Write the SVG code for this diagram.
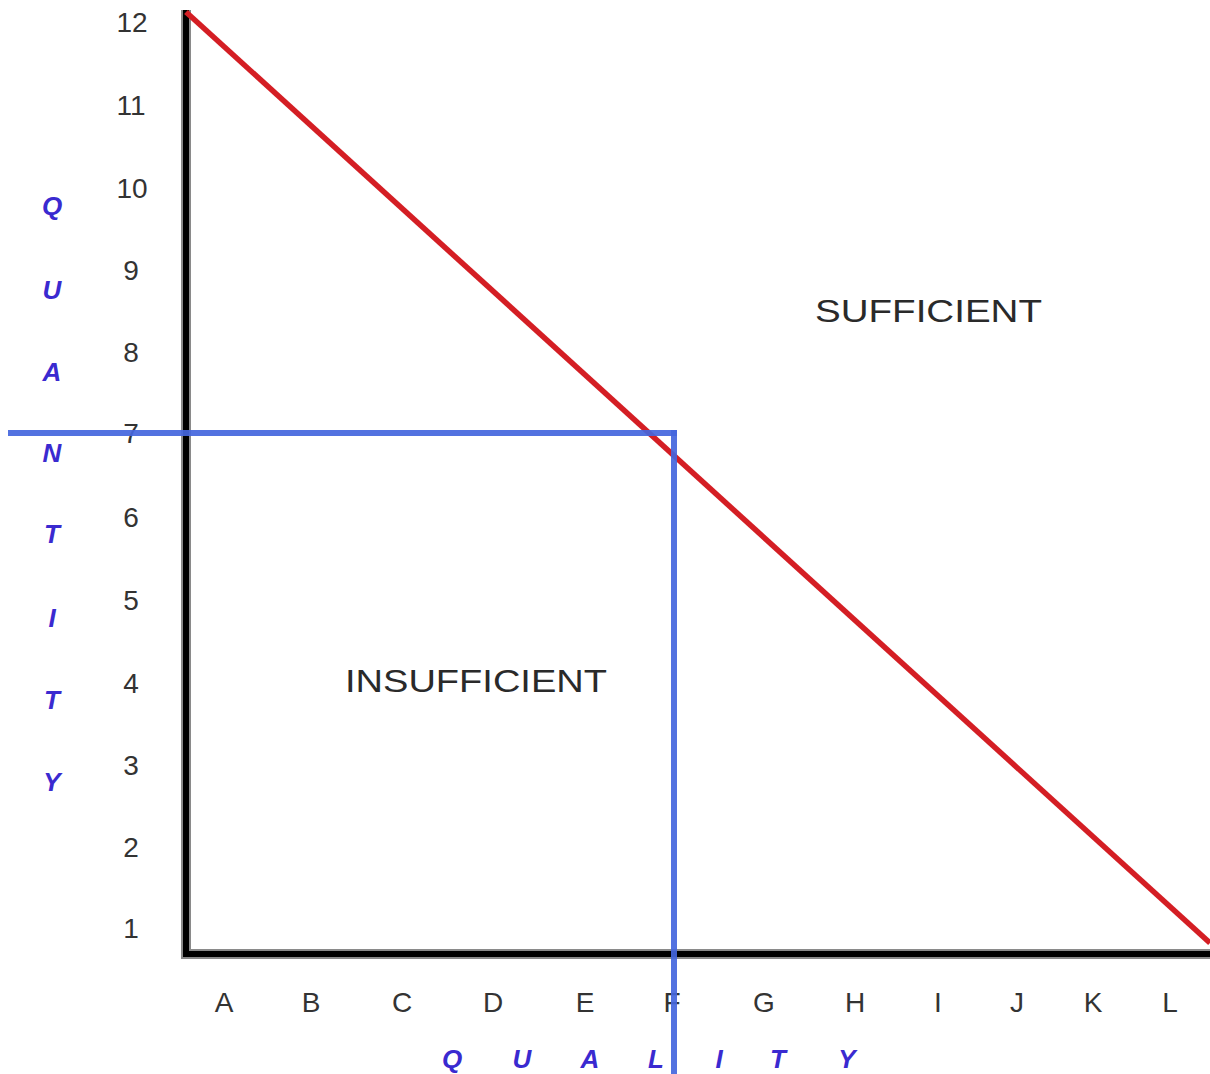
<svg xmlns="http://www.w3.org/2000/svg" width="1210" height="1074" viewBox="0 0 1210 1074">
<style>
.tick{font-family:"Liberation Sans",Arial,sans-serif;font-size:28px;fill:#333;text-anchor:middle;dominant-baseline:central}
.ax{font-family:"Liberation Sans",Arial,sans-serif;font-size:26px;font-weight:bold;font-style:italic;fill:#3a2ad0;text-anchor:middle;dominant-baseline:central}
.reg{font-family:"Liberation Sans",Arial,sans-serif;font-size:32px;fill:#2a2a2a;dominant-baseline:central}
.axisG{stroke:#8a8a8a;stroke-width:10;fill:none}
.axisB{stroke:#000;stroke-width:6;fill:none}
.blue{stroke:#4466dd;stroke-width:6;fill:none;opacity:0.92}
</style>
<rect width="1210" height="1074" fill="#fff"/>
<g id="axes">
<polyline class="axisG" points="186,10 186,954 1210,954"/>
<polyline class="axisB" points="186,10 186,954 1210,954"/>
</g>
<g id="y-ticks">
<text class="tick" x="132" y="22">12</text>
<text class="tick" x="131" y="105">11</text>
<text class="tick" x="132" y="188">10</text>
<text class="tick" x="131" y="270">9</text>
<text class="tick" x="131" y="352">8</text>
<text class="tick" x="131" y="433">7</text>
<text class="tick" x="131" y="517">6</text>
<text class="tick" x="131" y="600">5</text>
<text class="tick" x="131" y="683">4</text>
<text class="tick" x="131" y="765">3</text>
<text class="tick" x="131" y="847">2</text>
<text class="tick" x="131" y="928">1</text>
</g>
<g id="x-ticks">
<text class="tick" x="224" y="1002">A</text>
<text class="tick" x="311" y="1002">B</text>
<text class="tick" x="402" y="1002">C</text>
<text class="tick" x="493" y="1002">D</text>
<text class="tick" x="585" y="1002">E</text>
<text class="tick" x="672" y="1002">F</text>
<text class="tick" x="764" y="1002">G</text>
<text class="tick" x="855" y="1002">H</text>
<text class="tick" x="938" y="1002">I</text>
<text class="tick" x="1017" y="1002">J</text>
<text class="tick" x="1093" y="1002">K</text>
<text class="tick" x="1170" y="1002">L</text>
</g>
<g id="quantity-label">
<text class="ax" x="52" y="206">Q</text>
<text class="ax" x="52" y="290">U</text>
<text class="ax" x="52" y="372">A</text>
<text class="ax" x="52" y="453">N</text>
<text class="ax" x="52" y="534">T</text>
<text class="ax" x="52" y="618">I</text>
<text class="ax" x="52" y="700">T</text>
<text class="ax" x="52" y="782">Y</text>
</g>
<g id="quality-label">
<text class="ax" x="452" y="1059">Q</text>
<text class="ax" x="522" y="1059">U</text>
<text class="ax" x="590" y="1059">A</text>
<text class="ax" x="656" y="1059">L</text>
<text class="ax" x="719" y="1059">I</text>
<text class="ax" x="778" y="1059">T</text>
<text class="ax" x="847" y="1059">Y</text>
</g>
<g id="regions">
<text class="reg" x="345" y="681" textLength="262" lengthAdjust="spacingAndGlyphs">INSUFFICIENT</text>
<text class="reg" x="815" y="311" textLength="227" lengthAdjust="spacingAndGlyphs">SUFFICIENT</text>
</g>
<g id="connectors">
<line x1="186" y1="12" x2="1210" y2="943" stroke="#d41e24" stroke-width="5.5"/>
<polyline class="blue" points="8,433 677,433"/>
<polyline class="blue" points="674,430 674,1074"/>
</g>
</svg>
